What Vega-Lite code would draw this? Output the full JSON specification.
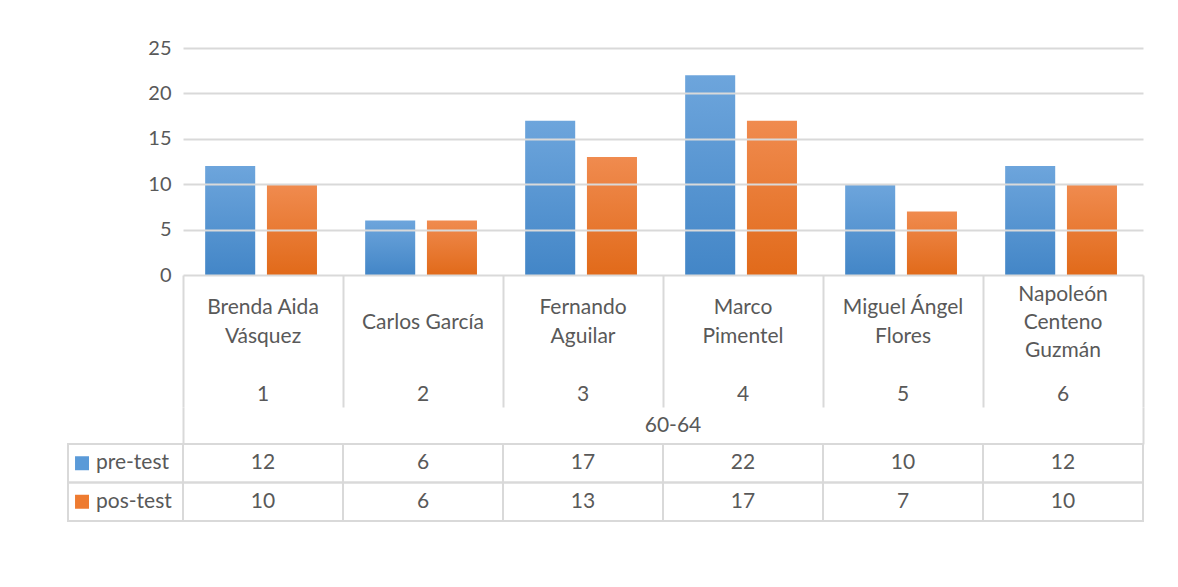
{
  "$schema": "https://vega.github.io/schema/vega-lite/v6.json",
  "autosize": {"type": "pad"},
  "padding": {"left": 67, "top": 38, "right": 5, "bottom": 5},
  "background": "white",
  "data": {
    "values": [
      {"idx": 1, "name": "Brenda Aida\nVásquez", "group": "60-64", "series": "pre-test", "value": 12},
      {"idx": 2, "name": "Carlos García", "group": "60-64", "series": "pre-test", "value": 6},
      {"idx": 3, "name": "Fernando\nAguilar", "group": "60-64", "series": "pre-test", "value": 17},
      {"idx": 4, "name": "Marco\nPimentel", "group": "60-64", "series": "pre-test", "value": 22},
      {"idx": 5, "name": "Miguel Ángel\nFlores", "group": "60-64", "series": "pre-test", "value": 10},
      {"idx": 6, "name": "Napoleón\nCenteno\nGuzmán", "group": "60-64", "series": "pre-test", "value": 12},
      {"idx": 1, "name": "Brenda Aida\nVásquez", "group": "60-64", "series": "pos-test", "value": 10},
      {"idx": 2, "name": "Carlos García", "group": "60-64", "series": "pos-test", "value": 6},
      {"idx": 3, "name": "Fernando\nAguilar", "group": "60-64", "series": "pos-test", "value": 13},
      {"idx": 4, "name": "Marco\nPimentel", "group": "60-64", "series": "pos-test", "value": 17},
      {"idx": 5, "name": "Miguel Ángel\nFlores", "group": "60-64", "series": "pos-test", "value": 7},
      {"idx": 6, "name": "Napoleón\nCenteno\nGuzmán", "group": "60-64", "series": "pos-test", "value": 10}
    ]
  },
  "spacing": 0,
  "bounds": "flush",
  "vconcat": [
    {
      "width": 960,
      "height": 227,
      "encoding": {
        "x": {"field": "idx", "type": "ordinal", "scale": {"paddingInner": 0, "paddingOuter": 0}, "axis": null},
        "xOffset": {"field": "series", "type": "nominal", "scale": {"domain": ["pre-test", "pos-test"], "paddingInner": 0.19, "paddingOuter": 0.39, "align": 0.46}},
        "y": {
          "field": "value", "type": "quantitative",
          "scale": {"domain": [0, 25], "nice": false},
          "axis": {"values": [0, 5, 10, 15, 20, 25], "grid": true, "gridColor": "#d9d9d9", "gridWidth": 2, "domain": false, "ticks": false, "labelPadding": 12, "labelFontSize": 20, "labelColor": "#595959", "title": null, "zindex": 1}
        }
      },
      "layer": [
        {
          "transform": [{"filter": "datum.series === 'pre-test'"}],
          "mark": {"type": "bar", "color": {"gradient": "linear", "x1": 0, "y1": 0, "x2": 0, "y2": 1, "stops": [{"offset": 0, "color": "#6da5dc"}, {"offset": 1, "color": "#4386c7"}]}}
        },
        {
          "transform": [{"filter": "datum.series === 'pos-test'"}],
          "mark": {"type": "bar", "color": {"gradient": "linear", "x1": 0, "y1": 0, "x2": 0, "y2": 1, "stops": [{"offset": 0, "color": "#f08b4f"}, {"offset": 1, "color": "#e16a1a"}]}}
        }
      ]
    },
    {
      "width": 960,
      "height": 132,
      "transform": [{"filter": "datum.series === 'pre-test'"}],
      "encoding": {
        "x": {"field": "idx", "type": "ordinal", "scale": {"paddingInner": 0, "paddingOuter": 0},
          "axis": {"grid": true, "gridColor": "#d9d9d9", "gridWidth": 2, "tickBand": "extent", "labels": false, "ticks": false, "domain": false, "title": null}}
      },
      "layer": [
        {"transform": [{"filter": "indexof(datum.name, '\\n') < 0"}],
          "mark": {"type": "text", "lineBreak": "\n", "lineHeight": 29, "baseline": "middle", "dy": -18.5}, "encoding": {"text": {"field": "name"}}},
        {"transform": [{"filter": "indexof(datum.name, '\\n') >= 0 && indexof(datum.name, '\\n') === lastindexof(datum.name, '\\n')"}],
          "mark": {"type": "text", "lineBreak": "\n", "lineHeight": 29, "baseline": "middle", "dy": -33}, "encoding": {"text": {"field": "name"}}},
        {"transform": [{"filter": "indexof(datum.name, '\\n') >= 0 && indexof(datum.name, '\\n') !== lastindexof(datum.name, '\\n')"}],
          "mark": {"type": "text", "lineBreak": "\n", "lineHeight": 28, "baseline": "middle", "dy": -46.5}, "encoding": {"text": {"field": "name"}}},
        {"mark": {"type": "text", "baseline": "middle", "dy": 54}, "encoding": {"text": {"field": "idx", "type": "ordinal"}}}
      ]
    },
    {
      "width": 960,
      "height": 37,
      "transform": [{"aggregate": [{"op": "count", "as": "n"}], "groupby": ["group"]}],
      "mark": {"type": "text", "baseline": "middle", "dx": 10},
      "encoding": {
        "x": {"field": "group", "type": "nominal", "scale": {"paddingInner": 0, "paddingOuter": 0},
          "axis": {"grid": true, "gridColor": "#d9d9d9", "gridWidth": 2, "tickBand": "extent", "labels": false, "ticks": false, "domain": false, "title": null}},
        "text": {"field": "group"}
      }
    },
    {
      "width": 960,
      "height": 77,
      "resolve": {"scale": {"x": "independent"}},
      "layer": [
        {
          "encoding": {
            "x": {"field": "idx", "type": "ordinal", "scale": {"paddingInner": 0, "paddingOuter": 0}, "axis": null},
            "y": {"field": "series", "type": "nominal", "scale": {"domain": ["pre-test", "pos-test"], "paddingInner": 0, "paddingOuter": 0}, "axis": null}
          },
          "layer": [
            {"mark": {"type": "rect", "fillOpacity": 0, "stroke": "#d9d9d9", "strokeWidth": 2}},
            {"mark": {"type": "text", "baseline": "middle"}, "encoding": {"text": {"field": "value", "type": "quantitative"}}}
          ]
        },
        {
          "transform": [{"aggregate": [{"op": "count", "as": "n"}], "groupby": ["series", "group"]}],
          "encoding": {
            "x": {"field": "group", "type": "nominal", "scale": {"range": [-115, 0], "paddingInner": 0, "paddingOuter": 0}, "axis": null},
            "y": {"field": "series", "type": "nominal", "scale": {"domain": ["pre-test", "pos-test"], "paddingInner": 0, "paddingOuter": 0}, "axis": null}
          },
          "layer": [
            {"mark": {"type": "rect", "fillOpacity": 0, "stroke": "#d9d9d9", "strokeWidth": 2}},
            {"mark": {"type": "point", "shape": "square", "filled": true, "size": 196, "opacity": 1},
              "encoding": {
                "x": {"field": "group", "type": "nominal", "bandPosition": 0.122},
                "color": {"field": "series", "type": "nominal", "scale": {"domain": ["pre-test", "pos-test"], "range": ["#5a9ad8", "#ee7b30"]}, "legend": null}}},
            {"mark": {"type": "text", "align": "left", "baseline": "middle", "dx": -29.5}, "encoding": {"text": {"field": "series"}}}
          ]
        }
      ]
    }
  ],
  "config": {
    "font": "Lato",
    "view": {"stroke": null},
    "text": {"font": "Lato", "fontSize": 21, "color": "#595959"},
    "axis": {"labelFont": "Lato"}
  }
}
